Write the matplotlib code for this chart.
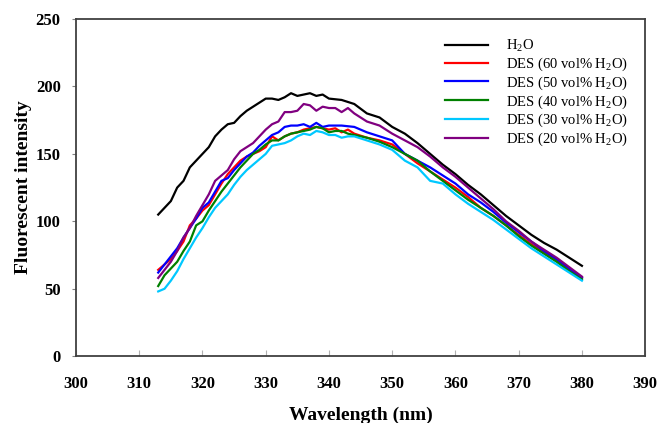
import matplotlib
matplotlib.use("Agg")
import matplotlib.pyplot as plt

plt.rcParams.update({
    "font.family": "Liberation Serif",
    "mathtext.fontset": "custom",
    "mathtext.rm": "Liberation Serif",
    "mathtext.it": "Liberation Serif:italic",
    "mathtext.bf": "Liberation Serif:bold",
})

# wavelength (nm) / intensity
wl_h2o = [313, 314, 315, 316, 317, 318, 319, 320, 321, 322, 323, 324, 325, 326, 327, 328, 329, 330,
          331, 332, 333, 334, 335, 336, 337, 338, 339, 340, 342, 344, 346, 348, 350, 352, 354, 356,
          358, 360, 362, 364, 366, 368, 370, 372, 374, 376, 378, 380]
h2o = [105, 110, 115, 125, 130, 140, 145, 150, 155, 163, 168, 172, 173, 178, 182, 185, 188, 191,
       191, 190, 192, 195, 193, 194, 195, 193, 194, 191, 190, 187, 180, 177, 170, 165, 158, 150,
       142, 135, 127, 120, 112, 104, 97, 90, 84, 79, 73, 67]

wl_60 = [313, 314, 315, 316, 317, 318, 319, 320, 321, 322, 323, 324, 325, 326, 327, 328, 329, 330,
         331, 332, 333, 334, 335, 336, 337, 338, 339, 340, 341, 342, 343, 344, 346, 348, 350, 352,
         354, 356, 358, 360, 362, 364, 366, 368, 370, 372, 374, 376, 378, 380]
des60 = [64, 68, 72, 78, 85, 97, 102, 108, 112, 120, 128, 135, 140, 145, 148, 150, 152, 155,
         163, 160, 163, 165, 166, 168, 169, 170, 169, 168, 169, 166, 168, 165, 162, 160, 157, 150,
         143, 137, 131, 125, 118, 110, 104, 97, 90, 83, 77, 71, 64, 58]

wl_50 = [313, 314, 315, 316, 317, 318, 319, 320, 321, 322, 323, 324, 325, 326, 327, 328, 329, 330,
         331, 332, 333, 334, 335, 336, 337, 338, 339, 340, 342, 344, 346, 348, 350, 352, 354, 356,
         358, 360, 362, 364, 366, 368, 370, 372, 374, 376, 378, 380]
des50 = [62, 68, 74, 80, 88, 95, 102, 110, 114, 122, 130, 132, 138, 143, 148, 151, 156, 160,
         164, 166, 170, 171, 171, 172, 170, 173, 170, 171, 171, 170, 166, 163, 160, 150, 145, 140,
         134, 128, 120, 114, 107, 99, 92, 85, 78, 72, 65, 58]

wl_40 = [313, 314, 315, 316, 317, 318, 319, 320, 321, 322, 323, 324, 325, 326, 327, 328, 329, 330,
         331, 332, 333, 334, 335, 336, 337, 338, 339, 340, 341, 342, 343, 344, 346, 348, 350, 352,
         354, 356, 358, 360, 362, 364, 366, 368, 370, 372, 374, 376, 378, 380]
des40 = [52, 60, 65, 70, 78, 85, 97, 100, 108, 115, 122, 128, 134, 140, 145, 150, 153, 157,
         160, 160, 163, 165, 166, 167, 168, 170, 169, 166, 167, 167, 165, 164, 162, 159, 155, 150,
         145, 137, 130, 123, 116, 110, 104, 97, 89, 82, 76, 70, 63, 57]

wl_30 = [313, 314, 315, 316, 317, 318, 319, 320, 321, 322, 323, 324, 325, 326, 327, 328, 329, 330,
         331, 332, 333, 334, 335, 336, 337, 338, 339, 340, 341, 342, 343, 344, 346, 348, 350, 352,
         354, 356, 357, 358, 360, 362, 364, 366, 368, 370, 372, 374, 376, 378, 380]
des30 = [48, 50, 56, 63, 72, 80, 88, 95, 103, 110, 115, 120, 127, 133, 138, 142, 146, 150,
         156, 157, 158, 160, 163, 165, 164, 167, 166, 164, 164, 162, 163, 163, 160, 157, 153, 145,
         140, 130, 129, 128, 120, 113, 107, 101, 94, 87, 80, 74, 68, 62, 56]

wl_20 = [313, 314, 315, 316, 317, 318, 319, 320, 321, 322, 323, 324, 325, 326, 327, 328, 329, 330,
         331, 332, 333, 334, 335, 336, 337, 338, 339, 340, 341, 342, 343, 344, 346, 348, 350, 352,
         354, 356, 358, 360, 362, 364, 366, 368, 370, 372, 374, 376, 378, 380]
des20 = [58, 64, 70, 78, 88, 95, 104, 112, 120, 130, 134, 138, 146, 152, 155, 158, 163, 168,
         172, 174, 181, 181, 182, 187, 186, 182, 185, 184, 184, 181, 184, 180, 174, 171, 165, 160,
         155, 148, 140, 133, 125, 117, 109, 100, 93, 85, 79, 73, 66, 59]

series = [
    (wl_h2o, h2o, "black", r"H$_\mathrm{2}$O"),
    (wl_60, des60, "red", r"DES (60 vol% H$_\mathrm{2}$O)"),
    (wl_50, des50, "blue", r"DES (50 vol% H$_\mathrm{2}$O)"),
    (wl_40, des40, "green", r"DES (40 vol% H$_\mathrm{2}$O)"),
    (wl_30, des30, "#00c8ff", r"DES (30 vol% H$_\mathrm{2}$O)"),
    (wl_20, des20, "purple", r"DES (20 vol% H$_\mathrm{2}$O)"),
]

fig = plt.figure(figsize=(6.58, 4.23), dpi=100)
ax = fig.add_axes([0.1155, 0.158, 0.865, 0.797])

for x, y, c, lab in series:
    ax.plot(x, y, color=c, lw=1.6, label=lab)

ax.set_xlim(300, 390)
ax.set_ylim(0, 250)
ax.set_xticks(range(300, 391, 10))
ax.set_yticks(range(0, 251, 50))
ax.tick_params(axis="x", direction="in", length=4, color="#b0b0b0", pad=14, labelsize=12)
ax.tick_params(axis="y", direction="out", length=3, color="#808080", pad=8, labelsize=12)
for lbl in ax.get_xticklabels() + ax.get_yticklabels():
    lbl.set_fontweight("bold")
for s in ax.spines.values():
    s.set_color("#404040")
    s.set_linewidth(1.3)

ax.set_xlabel("Wavelength (nm)", fontsize=14, fontweight="bold")
ax.set_ylabel("Fluorescent intensity", fontsize=14, fontweight="bold")
ax.xaxis.set_label_coords(0.5, -0.15)
ax.yaxis.set_label_coords(-0.077, 0.5)

ax.legend(loc="upper left", bbox_to_anchor=(0.638, 0.961), frameon=False, fontsize=10.5,
          handlelength=2.95, handletextpad=1.25, labelspacing=0.1, borderaxespad=0)

fig.savefig("out.png", dpi=100)
